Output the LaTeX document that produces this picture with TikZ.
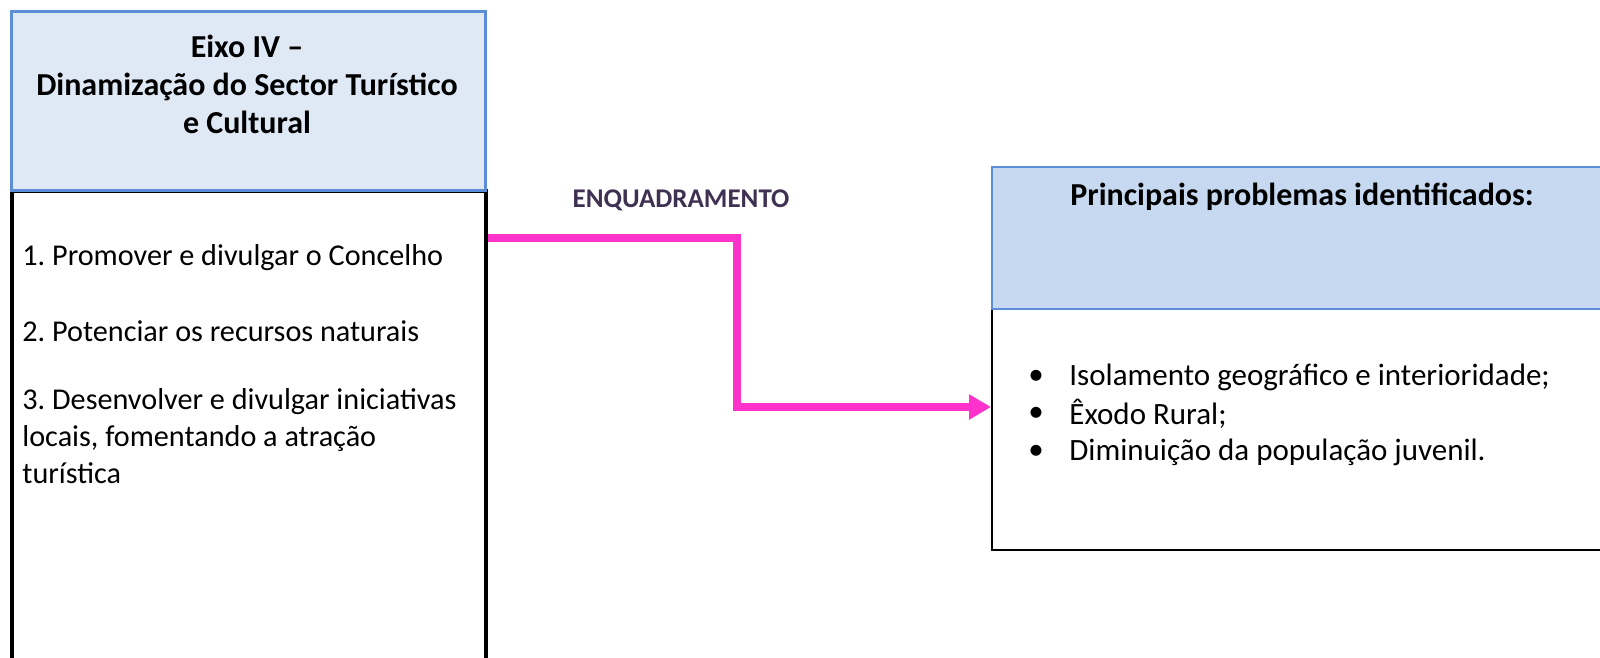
\documentclass[tikz,border=0pt]{standalone}
\usepackage{fontspec}
\setmainfont{Carlito}
\usetikzlibrary{arrows.meta}
\definecolor{eixofill}{HTML}{DFE8F5}
\definecolor{probfill}{HTML}{C6D9F1}
\definecolor{eixoedge}{HTML}{5B8ED6}
\definecolor{enqpink}{HTML}{FF33CC}
\definecolor{enqtext}{HTML}{3F3151}
\frenchspacing

\begin{document}
\begin{tikzpicture}[x=0.5pt,y=-0.5pt,
  headtext/.style={font=\fontsize{16}{19}\selectfont\bfseries,align=center,inner sep=0pt},
  listtext/.style={font=\fontsize{15.5}{18.5}\selectfont,align=left,anchor=west,inner sep=0pt},
  eixotext/.style={listtext,font=\fontsize{15.1}{18.5}\selectfont},
  bullettext/.style={font=\fontsize{15.5}{18.5}\selectfont,inner sep=0pt},
  link/.style={color=enqpink,line width=4pt,-{Triangle[length=11pt,width=12pt]}}]
\useasboundingbox (0,0) rectangle (1600,658);
\fill[white] (0,0) rectangle (1600,658);
\begin{scope}
\clip (0,0) rectangle (1600,658);
% Drawing boxes
% Box 1: Eixo IV
\node[draw=black,line width=2pt,minimum width=237pt,minimum height=255.5pt,anchor=north west,inner sep=0pt] (eixobody) at (10,189) {};
\node[draw=eixoedge,fill=eixofill,line width=1.5pt,minimum width=237pt,minimum height=89.5pt,anchor=north west,inner sep=0pt] (eixohead) at (10,10) {};
% Box 2: Principais problemas
\node[draw=black,line width=1pt,minimum width=314.5pt,minimum height=120.5pt,anchor=north west,inner sep=0pt] (probbody) at (991,308) {};
\node[draw=eixoedge,fill=probfill,line width=1pt,minimum width=314.5pt,minimum height=71pt,anchor=north west,inner sep=0pt] (probhead) at (991,166) {};
% Done with boxes; drawing texts
\node[headtext] (eixotitle) at (247,84) {Eixo IV –\\Dinamização do Sector Turístico\\e Cultural};
\node[eixotext] (eixo1) at (22,258) {1. Promover e divulgar o Concelho};
\node[eixotext] (eixo2) at (22,331) {2. Potenciar os recursos naturais};
\node[eixotext] (eixo3) at (22,436) {3. Desenvolver e divulgar iniciativas\\locais, fomentando a atração\\turística};
\node[headtext] (probtitle) at (1302,197) {Principais problemas identificados:};
\node[bullettext] (bul1) at (1036,377) {•};
\node[listtext] (prob1) at (1069,377) {Isolamento geográfico e interioridade;};
\node[bullettext] (bul2) at (1036,414) {•};
\node[listtext] (prob2) at (1069,414) {Êxodo Rural;};
\node[bullettext] (bul3) at (1036,452) {•};
\node[listtext] (prob3) at (1069,452) {Diminuição da população juvenil.};
% Done with texts; drawing the link
\coordinate (enqA) at (737,238);
\coordinate (enqB) at (737,407);
\draw[link] (eixobody.east |- enqA) -- (enqA) -- (enqB) -- (probbody.west |- enqB);
\node[font=\fontsize{13.5}{15}\selectfont\bfseries,text=enqtext] (enqlabel) at (681,200) {ENQUADRAMENTO};
% Done with the link
\end{scope}
\end{tikzpicture}
\end{document}
